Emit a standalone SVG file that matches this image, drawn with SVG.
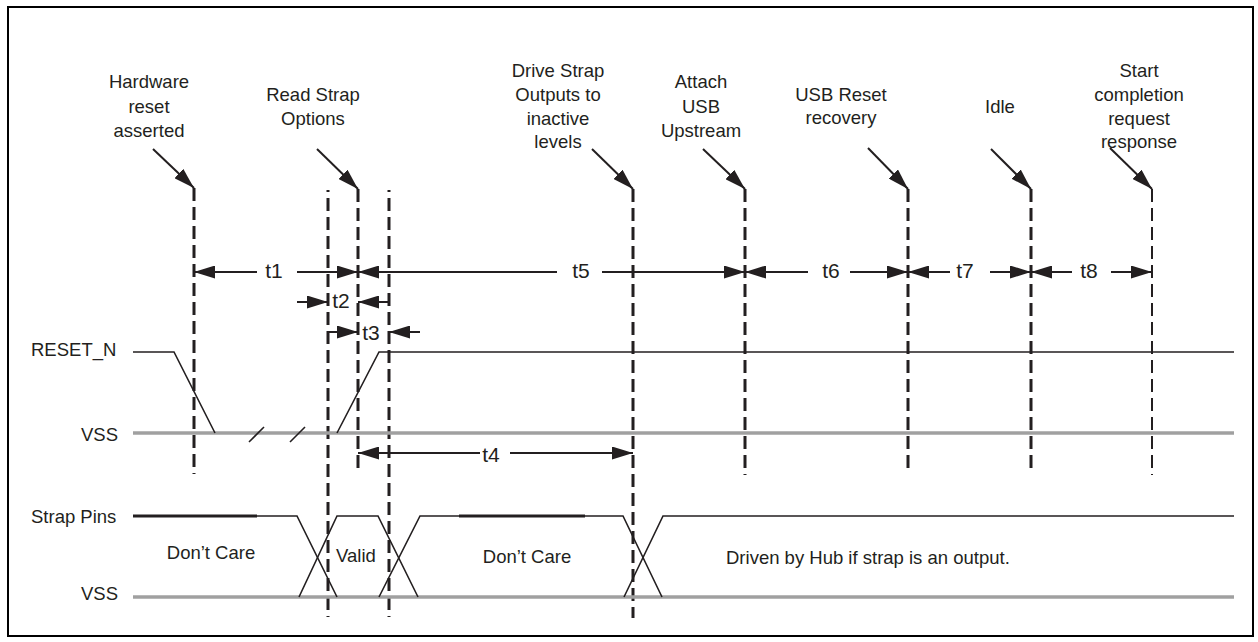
<svg xmlns="http://www.w3.org/2000/svg" width="1258" height="642" viewBox="0 0 1258 642">
<style>
text{font-family:"Liberation Sans",Arial,sans-serif;fill:#231f20}
.lbl{font-size:18.5px;text-anchor:middle}
.sig{font-size:18.5px}
.t{font-size:21px;text-anchor:middle}
.dash{stroke:#231f20;stroke-width:3;stroke-dasharray:13 6;fill:none}
.thin{stroke-width:2}
.ln{stroke:#231f20;stroke-width:1.6;fill:none}
.arr{stroke:#231f20;stroke-width:2;fill:none;marker-end:url(#ah)}
.vss{stroke:#a0a0a0;stroke-width:3.5;fill:none}
.thick{stroke:#231f20;stroke-width:3.2;fill:none}
</style>
<defs>
<marker id="ah" markerUnits="userSpaceOnUse" markerWidth="21" markerHeight="13" refX="21" refY="6.5" orient="auto">
<path d="M0,0 L21,6.5 L0,13 z" fill="#231f20"/>
</marker>
</defs>
<rect x="8" y="7" width="1245" height="629" fill="#fff" stroke="#000" stroke-width="2"/>

<g id="ev-hw-reset">
<text class="lbl" x="149" y="88">Hardware</text>
<text class="lbl" x="149" y="113">reset</text>
<text class="lbl" x="149" y="137">asserted</text>
<line class="arr" x1="153" y1="149" x2="194" y2="188"/>
<line class="dash" x1="194" y1="188" x2="194" y2="474"/>
</g>
<g id="ev-read-strap">
<text class="lbl" x="313" y="101">Read Strap</text>
<text class="lbl" x="313" y="125">Options</text>
<line class="arr" x1="317" y1="149" x2="358" y2="189"/>
<line class="dash" x1="358" y1="189" x2="358" y2="474"/>
</g>
<g id="ev-t2-start">
<line class="dash" x1="328" y1="190" x2="328" y2="617" stroke-dashoffset="11"/>
</g>
<g id="ev-t3-end">
<line class="dash" x1="389" y1="190" x2="389" y2="617" stroke-dashoffset="11"/>
</g>
<g id="ev-drive-strap">
<text class="lbl" x="558" y="77">Drive Strap</text>
<text class="lbl" x="558" y="101">Outputs to</text>
<text class="lbl" x="558" y="125">inactive</text>
<text class="lbl" x="558" y="148">levels</text>
<line class="arr" x1="592" y1="149" x2="633" y2="189"/>
<line class="dash" x1="633" y1="189" x2="633" y2="618"/>
</g>
<g id="ev-attach">
<text class="lbl" x="701" y="88">Attach</text>
<text class="lbl" x="701" y="113">USB</text>
<text class="lbl" x="701" y="137">Upstream</text>
<line class="arr" x1="703" y1="149" x2="745" y2="189"/>
<line class="dash" x1="745" y1="189" x2="745" y2="475"/>
</g>
<g id="ev-usb-reset">
<text class="lbl" x="841" y="101">USB Reset</text>
<text class="lbl" x="841" y="124">recovery</text>
<line class="arr" x1="868" y1="148" x2="908" y2="189"/>
<line class="dash" x1="908" y1="189" x2="908" y2="474"/>
</g>
<g id="ev-idle">
<text class="lbl" x="1000" y="113">Idle</text>
<line class="arr" x1="991" y1="149" x2="1031" y2="189"/>
<line class="dash" x1="1031" y1="189" x2="1031" y2="474"/>
</g>
<g id="ev-start-completion">
<text class="lbl" x="1139" y="77">Start</text>
<text class="lbl" x="1139" y="101">completion</text>
<text class="lbl" x="1139" y="125">request</text>
<text class="lbl" x="1139" y="148">response</text>
<line class="arr" x1="1110" y1="148" x2="1152" y2="189"/>
<line class="dash thin" x1="1152" y1="189" x2="1152" y2="475"/>
</g>

<g id="connectors">
<line class="arr" x1="257" y1="272" x2="194" y2="272"/>
<line class="arr" x1="297" y1="272" x2="358" y2="272"/>
<line class="arr" x1="557" y1="272" x2="358" y2="272"/>
<line class="arr" x1="602" y1="272" x2="745" y2="272"/>
<line class="arr" x1="808" y1="272" x2="745" y2="272"/>
<line class="arr" x1="850" y1="272" x2="908" y2="272"/>
<line class="arr" x1="950" y1="272" x2="908" y2="272"/>
<line class="arr" x1="990" y1="272" x2="1031" y2="272"/>
<line class="arr" x1="1072" y1="272" x2="1031" y2="272"/>
<line class="arr" x1="1111" y1="272" x2="1152" y2="272"/>
<line class="arr" x1="297" y1="302" x2="328" y2="302"/>
<line class="arr" x1="389" y1="302" x2="358" y2="302"/>
<line class="arr" x1="328" y1="332" x2="358" y2="332"/>
<line class="arr" x1="420" y1="332" x2="389" y2="332"/>
<line class="arr" x1="480" y1="453" x2="358" y2="453"/>
<line class="arr" x1="510" y1="453" x2="633" y2="453"/>
</g>
<g id="timing-labels">
<text class="t" x="274" y="278">t1</text>
<text class="t" x="341" y="308">t2</text>
<text class="t" x="371" y="340">t3</text>
<text class="t" x="491" y="462">t4</text>
<text class="t" x="581" y="278">t5</text>
<text class="t" x="831" y="278">t6</text>
<text class="t" x="965" y="278">t7</text>
<text class="t" x="1089" y="278">t8</text>
</g>

<g id="reset-n">
<text class="sig" x="31" y="356">RESET_N</text>
<text class="sig" x="118" y="441" text-anchor="end">VSS</text>
<line class="vss" x1="133" y1="433" x2="1234" y2="433"/>
<polyline class="ln" points="133,352 174,352 215,433"/>
<polyline class="ln" points="337,433 379,352 1234,352"/>
<line class="ln" x1="249" y1="442" x2="264" y2="427"/>
<line class="ln" x1="290" y1="442" x2="305" y2="427"/>
</g>

<g id="strap-pins">
<text class="sig" x="31" y="523">Strap Pins</text>
<text class="sig" x="118" y="600" text-anchor="end">VSS</text>
<line class="vss" x1="133" y1="597" x2="1234" y2="597"/>
<line class="thick" x1="133" y1="516" x2="257" y2="516"/>
<polyline class="ln" points="257,516 297,516 337,597"/>
<polyline class="ln" points="299,597 337,516 378,516 418,597"/>
<polyline class="ln" points="379,597 420,516 623,516 662,597"/>
<line class="thick" x1="459" y1="516" x2="585" y2="516"/>
<polyline class="ln" points="624,597 663,516 1234,516"/>
<text class="sig" x="211" y="559" text-anchor="middle">Don’t Care</text>
<text class="sig" x="356" y="562" text-anchor="middle">Valid</text>
<text class="sig" x="527" y="563" text-anchor="middle">Don’t Care</text>
<text class="sig" x="726" y="564">Driven by Hub if strap is an output.</text>
</g>
</svg>
